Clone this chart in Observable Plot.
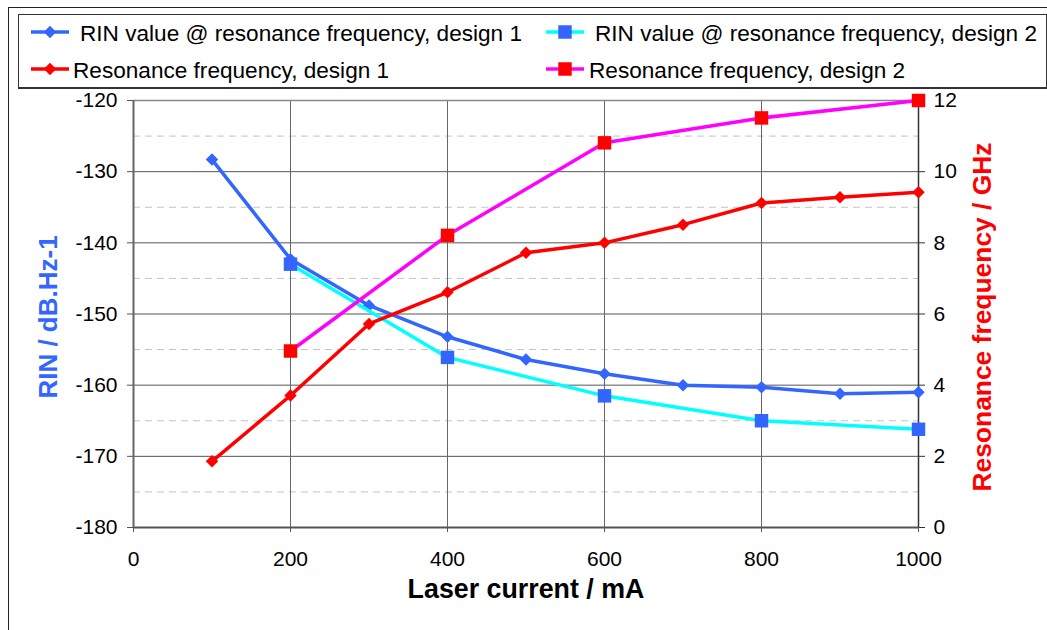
<!DOCTYPE html>
<html>
<head>
<meta charset="utf-8">
<script src="https://cdn.jsdelivr.net/npm/d3@7"></script>
<script src="https://cdn.jsdelivr.net/npm/@observablehq/plot@0.6"></script>
<style>
  html, body { margin: 0; padding: 0; background: #fff; }
  #wrap { position: relative; width: 1047px; height: 630px; overflow: hidden; background: #fff;
          font-family: "Liberation Sans", Arial, sans-serif; }
  #frame { position: absolute; left: 8px; top: 7px; width: 1100px; height: 700px;
           border-left: 1.5px solid #222; border-top: 1.5px solid #222; }
  #legend { position: relative; height: 90px; }
  #legendbox { position: absolute; left: 18px; top: 14px; width: 1027px; height: 72px;
               border: 1px solid #333; border-bottom-width: 2px; background: #fff; }
  .item { position: absolute; }
  .item svg { position: absolute; }
  .item span { position: absolute; white-space: nowrap; font-size: 22.6px; line-height: 26px; color: #000; }
  #chart { position: relative; }
  #chart svg { display: block; }
</style>
</head>
<body>
<div id="wrap">
  <div id="frame"></div>
  <div id="legend"><div id="legendbox"></div></div>
  <div id="chart"></div>
</div>
<script>
// ---- data ----
const currents1 = [100, 200, 300, 400, 500, 600, 700, 800, 900, 1000];
const rin1 = [-128.3, -142.3, -148.8, -153.2, -156.4, -158.4, -160.0, -160.3, -161.2, -161.0];
const freq1 = [1.86, 3.71, 5.72, 6.61, 7.72, 8.00, 8.51, 9.12, 9.28, 9.42];

const currents2 = [200, 400, 600, 800, 1000];
const rin2 = [-143.0, -156.1, -161.5, -165.0, -166.2];
const freq2 = [4.96, 8.21, 10.81, 11.51, 12.0];

const xTicks = [0, 200, 400, 600, 800, 1000];
const yTicks = [-180, -170, -160, -150, -140, -130, -120];
const yMinor = [-175, -165, -155, -145, -135, -125];
const freqTicks = [0, 2, 4, 6, 8, 10, 12];

const seriesNames = [
  "RIN value @ resonance frequency, design 1",
  "RIN value @ resonance frequency, design 2",
  "Resonance frequency, design 1",
  "Resonance frequency, design 2"
];
const lineColors = ["#3366FF", "#00FFFF", "#FF0000", "#FF00FF"];
const markerColors = ["#3366FF", "#3366FF", "#FF0000", "#FF0000"];
const markerSymbols = ["diamond2", "square", "diamond2", "square"];

const xTitle = "Laser current / mA";
const yTitle = "RIN / dB.Hz-1";
const y2Title = "Resonance frequency / GHz";

// secondary axis (0..12 GHz) mapped onto primary (-180..-120 dB)
const fToY = f => -180 + f * 5;
const yToF = y => (y + 180) / 5;

const d1 = currents1.map((x, i) => ({x, rin: rin1[i], f: fToY(freq1[i])}));
const d2 = currents2.map((x, i) => ({x, rin: rin2[i], f: fToY(freq2[i])}));

const DIAMOND_R = 5.6, SQUARE_R = 7.6;
const rFor = s => s === "square" ? SQUARE_R : DIAMOND_R;

// ---- legend ----
const legendPos = [
  {lx: 31, ly: 32, tx: 80, ty: 21},
  {lx: 546, ly: 32, tx: 595, ty: 21},
  {lx: 31, ly: 68.5, tx: 73, ty: 58},
  {lx: 546, ly: 68.5, tx: 589, ty: 58}
];
const legend = document.getElementById("legend");
seriesNames.forEach((name, i) => {
  const p = legendPos[i];
  const item = document.createElement("div");
  item.className = "item";
  item.style.left = "0px"; item.style.top = "0px";
  const sym = d3.symbol(markerSymbols[i] === "square" ? d3.symbolSquare : d3.symbolDiamond2,
                        Math.PI * rFor(markerSymbols[i]) ** 2);
  const svg = d3.create("svg").attr("width", 40).attr("height", 20)
    .style("left", (p.lx - 1) + "px").style("top", (p.ly - 10) + "px");
  svg.append("line").attr("x1", 1).attr("x2", 39).attr("y1", 10).attr("y2", 10)
    .attr("stroke", lineColors[i]).attr("stroke-width", 3.5);
  svg.append("path").attr("d", sym()).attr("transform", "translate(20,10)").attr("fill", markerColors[i]);
  item.appendChild(svg.node());
  const span = document.createElement("span");
  span.textContent = name;
  span.style.left = p.tx + "px"; span.style.top = p.ty + "px";
  item.appendChild(span);
  legend.appendChild(item);
});

// ---- chart ----
const chart = Plot.plot({
  width: 1047,
  height: 540,
  marginLeft: 133,
  marginRight: 129,
  marginTop: 10,
  marginBottom: 103,
  style: {fontFamily: "Liberation Sans, Arial, sans-serif", fontSize: "21px", color: "#000", background: "transparent", overflow: "visible"},
  x: {domain: [0, 1000]},
  y: {domain: [-180, -120]},
  marks: [
    Plot.ruleY(yMinor, {stroke: "#c4c4c4", strokeDasharray: "7,5", strokeWidth: 1}),
    Plot.ruleY(yTicks.filter(d => d > -180 && d < -120), {stroke: "#555", strokeWidth: 1}),
    Plot.ruleX(xTicks.filter(d => d > 0 && d < 1000), {stroke: "#666", strokeWidth: 1}),
    Plot.ruleY([-120], {stroke: "#888", strokeWidth: 1.5}),
    Plot.ruleX([0], {stroke: "#666", strokeWidth: 2}),
    Plot.ruleX([1000], {stroke: "#333", strokeWidth: 1.5}),
    Plot.ruleY([-180], {stroke: "#555", strokeWidth: 2}),
    Plot.axisX({ticks: xTicks, tickSize: 5, tickPadding: 19, stroke: "#555", label: null, tickFormat: d => String(d)}),
    Plot.axisY({anchor: "left", ticks: yTicks, tickSize: 6, tickPadding: 10, stroke: "#555", label: null, tickFormat: d => String(d)}),
    Plot.axisY({anchor: "right", ticks: yTicks, tickSize: 6, tickPadding: 9, stroke: "#333", label: null, tickFormat: d => String(yToF(d))}),
    // RIN design 1
    Plot.line(d1, {x: "x", y: "rin", stroke: lineColors[0], strokeWidth: 3.5}),
    Plot.dot(d1, {x: "x", y: "rin", symbol: markerSymbols[0], r: rFor(markerSymbols[0]), fill: markerColors[0], stroke: "none"}),
    // RIN design 2
    Plot.line(d2, {x: "x", y: "rin", stroke: lineColors[1], strokeWidth: 3.5}),
    Plot.dot(d2, {x: "x", y: "rin", symbol: markerSymbols[1], r: rFor(markerSymbols[1]), fill: markerColors[1], stroke: "none"}),
    // Resonance frequency design 1
    Plot.line(d1, {x: "x", y: "f", stroke: lineColors[2], strokeWidth: 3.5}),
    Plot.dot(d1, {x: "x", y: "f", symbol: markerSymbols[2], r: rFor(markerSymbols[2]), fill: markerColors[2], stroke: "none"}),
    // Resonance frequency design 2
    Plot.line(d2, {x: "x", y: "f", stroke: lineColors[3], strokeWidth: 3.5}),
    Plot.dot(d2, {x: "x", y: "f", symbol: markerSymbols[3], r: rFor(markerSymbols[3]), fill: markerColors[3], stroke: "none"}),
    // axis titles
    Plot.text([xTitle], {text: d => d, frameAnchor: "bottom", textAnchor: "middle", dy: 70, fontSize: 26.8, fontWeight: "bold", fill: "#000"}),
    Plot.text([yTitle], {text: d => d, frameAnchor: "left", textAnchor: "middle", dx: -85, dy: 3, rotate: -90, fontSize: 26, fontWeight: "bold", fill: "#3366FF"}),
    Plot.text([y2Title], {text: d => d, frameAnchor: "right", textAnchor: "middle", dx: 64, dy: 3, rotate: -90, fontSize: 26.4, fontWeight: "bold", fill: "#FF0000"})
  ]
});
document.getElementById("chart").appendChild(chart);
</script>
</body>
</html>
